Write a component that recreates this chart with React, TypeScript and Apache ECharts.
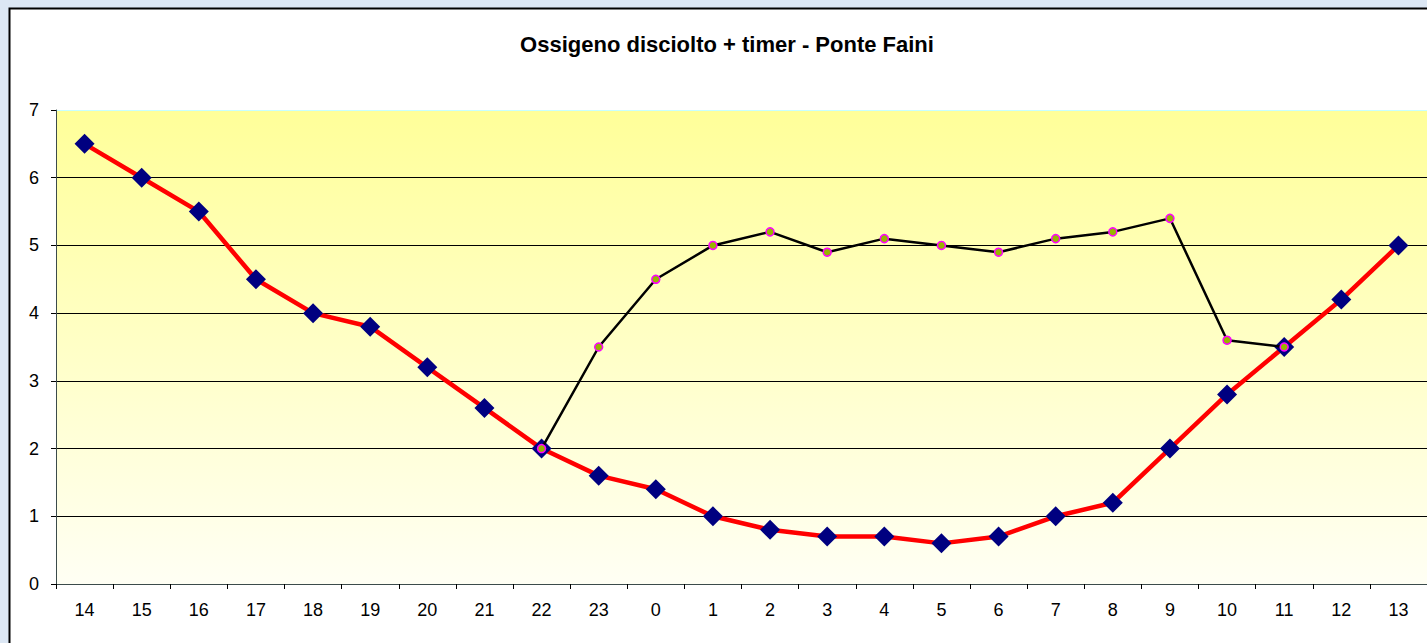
import React, { useEffect, useRef } from "react";
import * as echarts from "echarts";

const hours = ["14","15","16","17","18","19","20","21","22","23","0","1","2","3","4","5","6","7","8","9","10","11","12","13"];
const ossigeno = [6.5,6.0,5.5,4.5,4.0,3.8,3.2,2.6,2.0,1.6,1.4,1.0,0.8,0.7,0.7,0.6,0.7,1.0,1.2,2.0,2.8,3.5,4.2,5.0];
const timer = [null,null,null,null,null,null,null,null,2.0,3.5,4.5,5.0,5.2,4.9,5.1,5.0,4.9,5.1,5.2,5.4,3.6,3.5,null,null];
const yTicks = [0,1,2,3,4,5,6,7];
const titleText = "Ossigeno disciolto + timer - Ponte Faini";

export default function App() {
  const ref = useRef<HTMLDivElement>(null);
  useEffect(() => {
    document.body.style.margin = "0";
    document.body.style.overflow = "hidden";
    const chart = echarts.init(ref.current!, null, { renderer: "svg" });
    const font = "'Liberation Sans', Arial, sans-serif";
    chart.setOption({
      animation: false,
      backgroundColor: "#dce7f4",
      graphic: [
        {
          type: "rect",
          shape: { x: 9.5, y: 8.5, width: 1450, height: 700 },
          style: { fill: "#ffffff", stroke: "#000000", lineWidth: 2 },
          z: -10,
          silent: true,
        },
        {
          type: "text",
          x: 727,
          y: 44,
          style: {
            text: titleText,
            font: "bold 22px " + font,
            fill: "#000000",
            textAlign: "center",
            textVerticalAlign: "middle",
          },
        },
      ],
      grid: {
        left: 56,
        top: 110,
        width: 1372,
        height: 474,
        show: true,
        borderWidth: 0,
        backgroundColor: new echarts.graphic.LinearGradient(0, 0, 0, 1, [
          { offset: 0, color: "#ffff99" },
          { offset: 1, color: "#fffff4" },
        ]),
      },
      xAxis: {
        type: "category",
        data: hours,
        boundaryGap: true,
        axisLine: { show: true, lineStyle: { color: "#3b4b4b", width: 1 } },
        axisTick: { show: true, alignWithLabel: false, length: 5, lineStyle: { color: "#000" } },
        axisLabel: { color: "#000", fontSize: 18, fontFamily: font, margin: 17, interval: 0 },
        splitLine: { show: false },
      },
      yAxis: {
        type: "value",
        min: 0,
        max: 7,
        interval: 1,
        axisLine: { show: true, lineStyle: { color: "#3b4b4b", width: 1 } },
        axisTick: { show: true, length: 5, lineStyle: { color: "#000" } },
        axisLabel: {
          color: "#000",
          fontSize: 18,
          fontFamily: font,
          margin: 17,
          formatter: (v: number) => (yTicks.includes(v) ? String(v) : ""),
        },
        splitLine: {
          show: true,
          lineStyle: {
            color: ["#000", "#000", "#000", "#000", "#000", "#000", "#000", "#c8ffff"],
            width: 1,
          },
        },
      },
      series: [
        {
          type: "line",
          data: ossigeno,
          lineStyle: { color: "#ff0000", width: 4.5 },
          symbol: "diamond",
          symbolSize: 20,
          itemStyle: { color: "#000080", borderWidth: 0 },
          z: 2,
        },
        {
          type: "line",
          data: timer,
          connectNulls: false,
          lineStyle: { color: "#000000", width: 2.5 },
          symbol: "circle",
          symbolSize: 8,
          showAllSymbol: true,
          itemStyle: { color: "#99b300", borderColor: "#ff00ff", borderWidth: 1.5 },
          z: 3,
        },
      ],
    });
    return () => chart.dispose();
  }, []);
  return (
    <div
      ref={ref}
      style={{ position: "fixed", left: 0, top: 0, width: 1427, height: 643 }}
    />
  );
}
